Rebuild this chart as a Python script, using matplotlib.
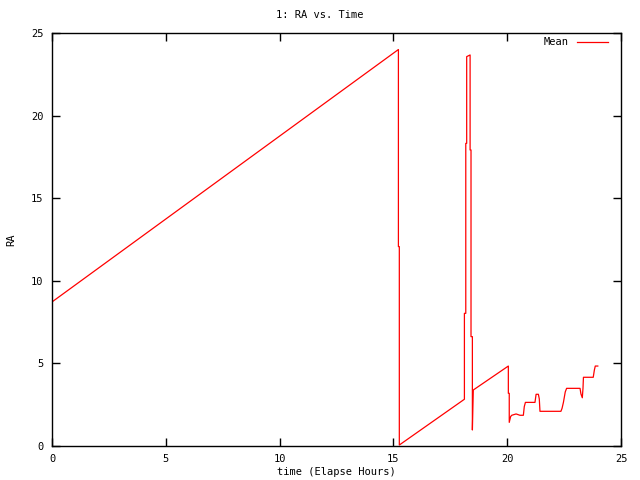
import matplotlib
matplotlib.use("Agg")
import matplotlib.pyplot as plt

# elapsed hours and mean RA
time_hours = [0.0, 15.22, 15.22, 15.26, 15.26, 18.12, 18.12, 18.18, 18.18, 18.22,
              18.22, 18.37, 18.37, 18.41, 18.41, 18.47, 18.47, 18.49, 18.51, 20.05,
              20.05, 20.09, 20.09, 20.15, 20.20, 20.39, 20.56, 20.71, 20.75, 20.80,
              21.22, 21.27, 21.37, 21.41, 21.44, 22.36, 22.41, 22.47, 22.55, 22.61,
              23.20, 23.24, 23.30, 23.33, 23.35, 23.78, 23.83, 23.87, 23.98]
ra_mean = [8.72, 24.0, 12.07, 12.07, 0.06, 2.83, 8.03, 8.03, 18.32, 18.32,
           23.57, 23.67, 17.92, 17.92, 6.62, 6.62, 0.97, 2.2, 3.39, 4.84,
           3.19, 3.19, 1.43, 1.78, 1.86, 1.94, 1.86, 1.86, 2.38, 2.64,
           2.64, 3.13, 3.13, 2.85, 2.10, 2.10, 2.28, 2.64, 3.27, 3.49,
           3.49, 3.15, 2.92, 3.49, 4.16, 4.16, 4.6, 4.84, 4.84]

x_ticks = [0, 5, 10, 15, 20, 25]
y_ticks = [0, 5, 10, 15, 20, 25]


def main():
    plt.rcParams['font.family'] = ['DejaVu Sans Mono']
    plt.rcParams['font.size'] = 7.5

    fig = plt.figure(figsize=(6.4, 4.8), dpi=100)
    ax = fig.add_axes([52 / 640, 34 / 480, 569 / 640, 413 / 480])

    ax.plot(time_hours, ra_mean, color='#ff0000', linewidth=0.9, label='Mean')

    ax.set_xlim(0, 25)
    ax.set_ylim(0, 25)
    ax.set_xticks(x_ticks)
    ax.set_yticks(y_ticks)
    ax.tick_params(direction='in', length=6, width=1, top=True, right=True,
                   labelsize=7.5, pad=6)
    for sp in ax.spines.values():
        sp.set_linewidth(1)

    # title and axis labels placed like gnuplot does
    fig.text(0.5, 1 - 15 / 480, '1: RA vs. Time', ha='center', va='center')
    fig.text(336 / 640, 1 - 472 / 480, 'time (Elapse Hours)', ha='center', va='center')
    fig.text(11 / 640, 0.5, 'RA', ha='center', va='center', rotation=90)

    ax.legend(loc='upper right', bbox_to_anchor=(0.985, 1.0), frameon=False,
              markerfirst=False, handlelength=3.0, handletextpad=0.8,
              borderaxespad=0.0)

    fig.savefig('out.png', dpi=100)


if __name__ == "__main__":
    main()
